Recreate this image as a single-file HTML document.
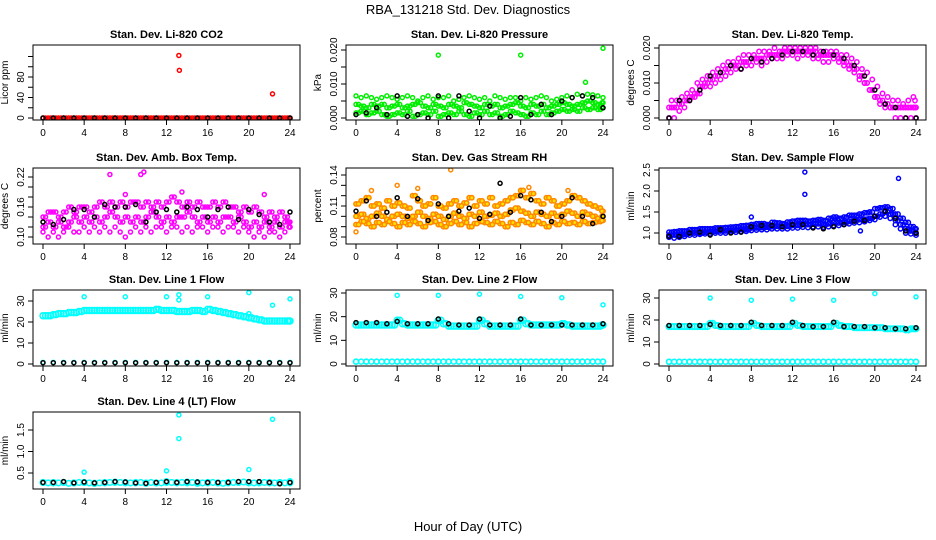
<!DOCTYPE html>
<html><head><meta charset="utf-8"><style>
body{margin:0;background:#fff}
svg{display:block;font-family:"Liberation Sans",sans-serif}
</style></head><body>
<svg id="chart" width="936" height="540" viewBox="0 0 936 540" xmlns="http://www.w3.org/2000/svg">
<text x="468" y="14" text-anchor="middle" font-size="13">RBA_131218  Std. Dev. Diagnostics</text>
<text x="468" y="531" text-anchor="middle" font-size="13">Hour of Day (UTC)</text>
</svg>
<script>
const HOURS=[0,0.5,1,1.5,2,2.5,3,3.5,4,4.5,5,5.5,6,6.5,7,7.5,8,8.5,9,9.5,10,10.5,11,11.5,12,12.5,13,13.5,14,14.5,15,15.5,16,16.5,17,17.5,18,18.5,19,19.5,20,20.5,21,21.5,22,22.5,23,23.5,24];
const HOURS_Q=[0.25,0.75,1.25,1.75,2.25,2.75,3.25,3.75,4.25,4.75,5.25,5.75,6.25,6.75,7.25,7.75,8.25,8.75,9.25,9.75,10.25,10.75,11.25,11.75,12.25,12.75,13.25,13.75,14.25,14.75,15.25,15.75,16.25,16.75,17.25,17.75,18.25,18.75,19.25,19.75,20.25,20.75,21.25,21.75,22.25,22.75,23.25,23.75,23.9];
const HRS=[0,1,2,3,4,5,6,7,8,9,10,11,12,13,14,15,16,17,18,19,20,21,22,23,24];
const X_TICKS=[0,4,8,12,16,20,24];

const CO2_RED=[0,0,0,0,0,0,0,0,0,0,0,0,0,0,0,0,0,0,0,0,0,0,0,0,0,0,0,0,0,0,0,0,0,0,0,0,0,0,0,0,0,0,0,0,0,0,0,0,0];
const CO2_K=[0,0,0,0,0,0,0,0,0,0,0,0,0,0,0,0,0,0,0,0,0,0,0,0,0];
const CO2_OUT_X=[13.2,13.25,22.3];
const CO2_OUT_Y=[122,93,47];

const PRES_G1=[0.0065,0.006,0.0065,0.006,0.0055,0.006,0.0065,0.006,0.0055,0.006,0.0065,0.006,0.005,0.006,0.0065,0.0055,0.006,0.006,0.0065,0.005,0.0055,0.006,0.0065,0.006,0.0055,0.006,0.005,0.0065,0.006,0.0055,0.006,0.006,0.005,0.006,0.0055,0.006,0.0065,0.006,0.005,0.0055,0.006,0.0065,0.006,0.007,0.0065,0.007,0.0068,0.0065,0.006];
const PRES_G2=[0.004,0.0035,0.003,0.004,0.0035,0.004,0.003,0.0035,0.004,0.003,0.0035,0.004,0.0045,0.0035,0.003,0.004,0.0035,0.003,0.004,0.0035,0.003,0.0045,0.004,0.0035,0.003,0.004,0.0035,0.004,0.003,0.0035,0.004,0.0045,0.0035,0.003,0.004,0.0035,0.004,0.003,0.0035,0.004,0.0045,0.004,0.0035,0.004,0.0045,0.005,0.0045,0.004,0.0045];
const PRES_G3=[0.0015,0.002,0.001,0.0015,0.002,0.001,0.0005,0.001,0.0015,0.001,0.002,0.0005,0.001,0.0015,0.001,0.002,0.0005,0.001,0.0015,0.001,0.002,0.001,0.0005,0.0015,0.001,0.002,0.001,0.0015,0.0005,0.001,0.002,0.0015,0.001,0.0005,0.0015,0.001,0.002,0.001,0.0015,0.002,0.0025,0.002,0.0025,0.002,0.003,0.0025,0.003,0.0025,0.003];
const PRES_K=[0.001,0.0015,0.003,0.001,0.0065,0.0005,0.001,0,0.0065,0,0.0065,0.002,0,0.0035,0,0.0005,0.006,0.001,0.004,0.001,0.005,0.006,0.0065,0.006,0.003];
const PRES_OUT_X=[8,16,22.3,24];
const PRES_OUT_Y=[0.0185,0.0185,0.0105,0.0205];

const TEMP_M1=[0.003,0.003,0.004,0.005,0.006,0.007,0.009,0.010,0.011,0.012,0.013,0.014,0.015,0.015,0.016,0.016,0.017,0.017,0.017,0.018,0.018,0.018,0.019,0.019,0.019,0.019,0.019,0.019,0.019,0.018,0.018,0.018,0.018,0.017,0.016,0.015,0.014,0.012,0.010,0.008,0.006,0.005,0.004,0.003,0.003,0.003,0.003,0.003,0.003];
const TEMP_M2=[0,0,0.002,0.003,0.005,0.006,0.007,0.009,0.009,0.010,0.011,0.012,0.013,0.014,0.014,0.015,0.015,0.016,0.015,0.016,0.017,0.017,0.017,0.018,0.018,0.017,0.018,0.018,0.017,0.017,0.016,0.016,0.017,0.016,0.015,0.014,0.013,0.011,0.010,0.008,0.006,0.004,0.003,0.003,0,0,0,0,0];
const TEMP_M3=[0.005,0.005,0.006,0.007,0.008,0.010,0.011,0.012,0.013,0.014,0.015,0.016,0.016,0.017,0.018,0.018,0.018,0.019,0.019,0.019,0.020,0.019,0.020,0.020,0.020,0.020,0.020,0.020,0.020,0.019,0.019,0.019,0.019,0.018,0.018,0.017,0.016,0.014,0.013,0.011,0.009,0.007,0.006,0.005,0.005,0.004,0.005,0.006,0.005];
const TEMP_K=[0,0.005,0.005,0.008,0.012,0.013,0.015,0.014,0.017,0.016,0.017,0.018,0.019,0.019,0.018,0.019,0.018,0.017,0.015,0.012,0.008,0.004,0.003,0,0];

const AMB_M1=[0.14,0.15,0.15,0.14,0.15,0.16,0.15,0.16,0.16,0.15,0.16,0.17,0.16,0.17,0.16,0.17,0.16,0.17,0.17,0.16,0.17,0.16,0.17,0.16,0.17,0.18,0.17,0.16,0.17,0.16,0.17,0.16,0.16,0.17,0.16,0.17,0.16,0.16,0.15,0.16,0.15,0.16,0.15,0.14,0.15,0.14,0.15,0.14,0.13];
const AMB_M2=[0.12,0.13,0.12,0.13,0.12,0.13,0.14,0.13,0.14,0.13,0.14,0.13,0.14,0.15,0.14,0.13,0.14,0.13,0.14,0.13,0.14,0.15,0.14,0.13,0.14,0.13,0.14,0.14,0.15,0.14,0.13,0.14,0.13,0.14,0.13,0.14,0.14,0.13,0.14,0.13,0.12,0.13,0.12,0.13,0.12,0.13,0.12,0.13,0.12];
const AMB_M3=[0.11,0.10,0.11,0.10,0.11,0.12,0.11,0.11,0.12,0.11,0.12,0.11,0.12,0.11,0.12,0.11,0.10,0.11,0.12,0.11,0.12,0.11,0.12,0.12,0.11,0.12,0.12,0.11,0.12,0.11,0.12,0.12,0.11,0.12,0.12,0.11,0.12,0.12,0.11,0.12,0.11,0.10,0.11,0.10,0.11,0.11,0.10,0.11,0.12];
const AMB_K=[0.13,0.125,0.135,0.155,0.155,0.14,0.165,0.16,0.16,0.165,0.13,0.15,0.155,0.15,0.16,0.155,0.14,0.155,0.16,0.135,0.155,0.145,0.13,0.125,0.15];
const AMB_OUT_X=[6.5,9.5,9.8,13.5,21.5,8];
const AMB_OUT_Y=[0.225,0.225,0.23,0.19,0.185,0.185];

const RH_Y1=[0.112,0.115,0.118,0.11,0.112,0.108,0.115,0.11,0.113,0.11,0.108,0.12,0.115,0.11,0.112,0.118,0.11,0.108,0.112,0.115,0.11,0.113,0.118,0.11,0.115,0.112,0.118,0.11,0.112,0.115,0.118,0.12,0.125,0.118,0.122,0.115,0.112,0.118,0.115,0.11,0.112,0.115,0.12,0.118,0.115,0.112,0.11,0.108,0.105];
const RH_Y2=[0.1,0.102,0.098,0.1,0.103,0.1,0.097,0.1,0.102,0.1,0.098,0.1,0.104,0.1,0.098,0.102,0.1,0.097,0.1,0.103,0.1,0.098,0.102,0.1,0.104,0.1,0.101,0.103,0.1,0.102,0.106,0.108,0.105,0.103,0.1,0.104,0.102,0.1,0.103,0.1,0.102,0.105,0.103,0.1,0.104,0.102,0.1,0.098,0.1];
const RH_Y3=[0.092,0.095,0.093,0.09,0.094,0.092,0.095,0.093,0.09,0.094,0.092,0.095,0.093,0.09,0.094,0.095,0.092,0.09,0.093,0.095,0.092,0.094,0.09,0.093,0.095,0.094,0.092,0.095,0.093,0.09,0.094,0.092,0.096,0.094,0.092,0.095,0.093,0.09,0.094,0.092,0.095,0.093,0.094,0.092,0.095,0.093,0.094,0.095,0.096];
const RH_K=[0.105,0.115,0.1,0.104,0.118,0.1,0.117,0.096,0.112,0.1,0.105,0.108,0.098,0.102,0.132,0.104,0.12,0.116,0.104,0.095,0.1,0.118,0.1,0.093,0.1];
const RH_OUT_X=[4,1.5,9.2,6,16.8,20.6,0];
const RH_OUT_Y=[0.13,0.125,0.145,0.127,0.128,0.125,0.085];

const FLOW_B1=[0.95,0.95,0.95,0.97,1.0,1.0,1.0,1.02,1.03,1.04,1.05,1.05,1.06,1.07,1.08,1.08,1.12,1.12,1.13,1.14,1.15,1.16,1.15,1.16,1.18,1.18,1.2,1.2,1.22,1.22,1.2,1.22,1.25,1.24,1.25,1.28,1.3,1.32,1.33,1.35,1.4,1.45,1.5,1.45,1.3,1.2,1.1,1.05,1.0];
const FLOW_B2=[0.9,0.88,0.9,0.92,0.95,0.95,0.97,0.98,0.98,1.0,1.0,1.0,1.02,1.02,1.03,1.04,1.06,1.07,1.08,1.08,1.1,1.1,1.1,1.1,1.12,1.12,1.14,1.13,1.15,1.15,1.14,1.15,1.18,1.18,1.2,1.22,1.24,1.25,1.27,1.3,1.32,1.38,1.4,1.35,1.2,1.1,1.0,0.98,0.95];
const FLOW_B3=[1.02,1.03,1.05,1.05,1.08,1.08,1.1,1.1,1.1,1.12,1.12,1.13,1.14,1.15,1.17,1.18,1.2,1.22,1.22,1.2,1.25,1.24,1.22,1.26,1.28,1.3,1.3,1.28,1.3,1.32,1.3,1.35,1.38,1.35,1.38,1.42,1.42,1.45,1.48,1.5,1.58,1.6,1.62,1.58,1.45,1.35,1.25,1.15,1.1];
const FLOW_K=[0.92,0.92,1.0,1.02,0.95,1.08,1.0,1.02,1.15,1.18,1.18,1.15,1.2,1.2,1.12,1.1,1.15,1.2,1.28,1.3,1.4,1.52,1.35,1.05,1.0];
const FLOW_OUT_X=[13.2,13.2,22.3,8,18.6];
const FLOW_OUT_Y=[2.45,1.92,2.3,1.38,1.05];

const LINE1_C=[23,23,23.5,24,24,24.5,24.5,25,25.5,25.5,25.5,25.5,25.5,25.5,25.5,25.5,25.5,25.5,25.5,25.5,25.5,25.5,26,25.5,25.5,25.5,25,25,25,25.5,25.5,25,26,25.5,25,24.5,24,23.5,23,22.5,22,21.5,21,20.5,20.5,20.5,20.5,20.5,20.5];
const LINE1_LOW=[0.8,0.8,0.8,0.8,0.8,0.8,0.8,0.8,0.8,0.8,0.8,0.8,0.8,0.8,0.8,0.8,0.8,0.8,0.8,0.8,0.8,0.8,0.8,0.8,0.8];
const LINE1_K=[0.6,0.6,0.6,0.6,0.6,0.6,0.6,0.6,0.6,0.6,0.6,0.6,0.6,0.6,0.6,0.6,0.6,0.6,0.6,0.6,0.6,0.6,0.6,0.6,0.6];
const LINE1_OUT_X=[4,8,12,13.2,13.2,16,20,22.3,24,20];
const LINE1_OUT_Y=[32,32,32,33,30.5,32,34,28,31,24];

const LINE2_C=[16.5,16.5,16.5,16.5,16.5,16.5,16.5,16.5,18.5,17,16.5,16.5,16.5,16.5,16.5,16.5,18.5,17,16,16,16,16,16,16,18.5,17,16,16,16,16,16,16,18.5,17,16.5,16.5,16.5,16.5,16.5,16.5,17,16.5,16,16,16,16,16,16,16.5];
const LINE2_LOW=[1,1,1,1,1,1,1,1,1,1,1,1,1,1,1,1,1,1,1,1,1,1,1,1,1];
const LINE2_K=[17.5,17.5,17.5,17,18,17,17,17,19,17,16.5,16.5,19,16.5,16.5,16.5,19,16.5,16.5,16.5,16.5,16.5,16.5,16.5,17];
const LINE2_OUT_X=[4,8,12,16,20,24];
const LINE2_OUT_Y=[29,29,29.5,28.5,28,25];

const LINE3_C=[17,17,17,17,17,17,17,17,18.5,17.5,17,17,17,17,17,17,18.5,17.5,17,17,17,17,17,17,18.5,17.5,17,17,17,17,17,17,18.5,17.5,17,17,16.5,16.5,16.5,16.5,16.5,16.5,16,16,16,16,15.5,16,16];
const LINE3_LOW=[1,1,1,1,1,1,1,1,1,1,1,1,1,1,1,1,1,1,1,1,1,1,1,1,1];
const LINE3_K=[17.5,17.5,17.5,17.5,18,17.5,17.5,17.5,19,17.5,17.5,17.5,19,17.5,17,17,19,17,17,17,16.5,16.5,16,16,16.5];
const LINE3_OUT_X=[4,8,12,16,20,24];
const LINE3_OUT_Y=[30,29,29.5,29,32,30.5];

const LINE4_C=[0.28,0.27,0.28,0.27,0.28,0.26,0.27,0.28,0.28,0.27,0.26,0.27,0.28,0.28,0.29,0.28,0.27,0.27,0.28,0.28,0.27,0.28,0.27,0.27,0.3];
const LINE4_K=[0.28,0.28,0.3,0.27,0.29,0.27,0.28,0.3,0.29,0.27,0.26,0.28,0.3,0.28,0.3,0.29,0.28,0.28,0.28,0.3,0.3,0.3,0.28,0.25,0.28];
const LINE4_OUT_X=[4,12,13.2,13.2,20,22.3];
const LINE4_OUT_Y=[0.52,0.55,1.85,1.3,0.58,1.75];

const NS="http://www.w3.org/2000/svg";
const svg=document.getElementById('chart');
function mk(tag,attrs,parent){const e=document.createElementNS(NS,tag);for(const k in attrs)e.setAttribute(k,attrs[k]);(parent||svg).appendChild(e);return e;}

const COLX=[43,356,669], ROWTOP=[45,168,290,412], ROWBOT=[120,244,366,489];
const panels=[
 {name:'co2',col:0,row:0,title:'Stan. Dev. Li-820 CO2',ylab:'Licor ppm',v0:0,p0:118,v1:80,p1:77,ticks:[0,20,40,60,80,100,120],labels:[0,40,80],fmt:v=>String(v),
  series:[[HOURS,CO2_RED,'#ff0000',2],[HOURS_Q,CO2_RED,'#ff0000',2],[HRS,CO2_K,'#000',2],[CO2_OUT_X,CO2_OUT_Y,'#ff0000',2]]},
 {name:'pressure',col:1,row:0,title:'Stan. Dev. Li-820 Pressure',ylab:'kPa',v0:0,p0:118,v1:0.02,p1:50,ticks:[0,0.005,0.01,0.015,0.02],labels:[0,0.01,0.02],fmt:v=>v.toFixed(3),
  series:[[HOURS,PRES_G1,'#00ee00',2],[HOURS_Q,PRES_G2,'#00ee00',2],[HOURS,PRES_G3,'#00ee00',2],[HOURS_Q,PRES_G3,'#00ee00',2],[HOURS,PRES_G2,'#00ee00',2],[HRS,PRES_K,'#000',2],[PRES_OUT_X,PRES_OUT_Y,'#00ee00',2]]},
 {name:'temp',col:2,row:0,title:'Stan. Dev. Li-820 Temp.',ylab:'degrees C',v0:0,p0:118,v1:0.02,p1:48,ticks:[0,0.005,0.01,0.015,0.02],labels:[0,0.01,0.02],fmt:v=>v.toFixed(3),
  series:[[HOURS,TEMP_M2,'#ff00ff',2.2],[HOURS_Q,TEMP_M3,'#ff00ff',2.2],[HOURS,TEMP_M1,'#ff00ff',2.2],[HOURS_Q,TEMP_M1,'#ff00ff',2.2],[HRS,TEMP_K,'#000',2]]},
 {name:'amb-box-temp',col:0,row:1,title:'Stan. Dev. Amb. Box Temp.',ylab:'degrees C',v0:0.1,p0:237,v1:0.22,p1:177,ticks:[0.1,0.12,0.14,0.16,0.18,0.2,0.22],labels:[0.1,0.16,0.22],fmt:v=>v.toFixed(2),
  series:[[HOURS,AMB_M1,'#ff00ff',2],[HOURS_Q,AMB_M2,'#ff00ff',2],[HOURS,AMB_M3,'#ff00ff',2],[HOURS_Q,AMB_M1,'#ff00ff',2],[HOURS,AMB_M2,'#ff00ff',2],[AMB_OUT_X,AMB_OUT_Y,'#ff00ff',2],[HRS,AMB_K,'#000',2]]},
 {name:'gas-stream-rh',col:1,row:1,title:'Stan. Dev. Gas Stream RH',ylab:'percent',v0:0.08,p0:237,v1:0.14,p1:175,ticks:[0.08,0.09,0.1,0.11,0.12,0.13,0.14],labels:[0.08,0.11,0.14],fmt:v=>v.toFixed(2),
  series:[[HOURS,RH_Y1,'#ff8800',2.2,'#ffe000'],[HOURS_Q,RH_Y2,'#ff8800',2.2,'#ffe000'],[HOURS,RH_Y3,'#ff8800',2.2,'#ffe000'],[HOURS_Q,RH_Y1,'#ff8800',2.2,'#ffe000'],[HOURS,RH_Y2,'#ff8800',2.2,'#ffe000'],[HOURS_Q,RH_Y3,'#ff8800',2.2,'#ffe000'],[RH_OUT_X,RH_OUT_Y,'#ff8800',2],[HRS,RH_K,'#000',2]]},
 {name:'sample-flow',col:2,row:1,title:'Stan. Dev. Sample Flow',ylab:'ml/min',v0:1,p0:233,v1:2.5,p1:170,ticks:[1,1.5,2,2.5],labels:[1,1.5,2,2.5],fmt:v=>v.toFixed(1),
  series:[[HOURS,FLOW_B2,'#0000ff',2.2],[HOURS_Q,FLOW_B3,'#0000ff',2.2],[HOURS,FLOW_B1,'#0000ff',2.2],[HOURS_Q,FLOW_B1,'#0000ff',2.2],[HOURS,FLOW_B3,'#0000ff',2.2],[FLOW_OUT_X,FLOW_OUT_Y,'#0000ff',2],[HRS,FLOW_K,'#000',2]]},
 {name:'line1-flow',col:0,row:2,title:'Stan. Dev. Line 1 Flow',ylab:'ml/min',v0:0,p0:364,v1:30,p1:301,ticks:[0,10,20,30],labels:[0,10,20,30],fmt:v=>String(v),
  series:[[HOURS,LINE1_C,'#00ffff',3],[HOURS_Q,LINE1_C,'#00ffff',3],[HRS,LINE1_LOW,'#00ffff',2],[LINE1_OUT_X,LINE1_OUT_Y,'#00ffff',2],[HRS,LINE1_K,'#000',2]]},
 {name:'line2-flow',col:1,row:2,title:'Stan. Dev. Line 2 Flow',ylab:'ml/min',v0:0,p0:364,v1:30,p1:293,ticks:[0,10,20,30],labels:[0,10,20,30],fmt:v=>String(v),
  series:[[HOURS,LINE2_C,'#00ffff',3],[HOURS_Q,LINE2_C,'#00ffff',3],[HRS,LINE2_LOW,'#00ffff',2.5],[HOURS,LINE2_LOW.concat(LINE2_LOW),'#00ffff',2.5],[LINE2_OUT_X,LINE2_OUT_Y,'#00ffff',2],[HRS,LINE2_K,'#000',2]]},
 {name:'line3-flow',col:2,row:2,title:'Stan. Dev. Line 3 Flow',ylab:'ml/min',v0:0,p0:364,v1:30,p1:298,ticks:[0,10,20,30],labels:[0,10,20,30],fmt:v=>String(v),
  series:[[HOURS,LINE3_C,'#00ffff',2.8],[HOURS_Q,LINE3_C,'#00ffff',2.8],[HRS,LINE3_LOW,'#00ffff',2.5],[HOURS,LINE3_LOW.concat(LINE3_LOW),'#00ffff',2.5],[LINE3_OUT_X,LINE3_OUT_Y,'#00ffff',2],[HRS,LINE3_K,'#000',2]]},
 {name:'line4-flow',col:0,row:3,title:'Stan. Dev. Line 4 (LT) Flow',ylab:'ml/min',v0:0.5,p0:473,v1:1.5,p1:430,ticks:[0.5,1,1.5],labels:[0.5,1,1.5],fmt:v=>v.toFixed(1),
  series:[[HRS,LINE4_C,'#00ffff',2.8],[HOURS,LINE4_C.concat(LINE4_C),'#00ffff',2.8],[LINE4_OUT_X,LINE4_OUT_Y,'#00ffff',2],[HRS,LINE4_K,'#000',2]]}
];

panels.forEach(p=>{
  const x0=COLX[p.col], top=ROWTOP[p.row], bot=ROWBOT[p.row];
  const left=x0-10, right=x0+257;
  const xs=v=>x0+v*(247/24);
  const ys=v=>p.p0+(v-p.v0)*(p.p1-p.p0)/(p.v1-p.v0);
  const g=mk('g',{});
  
  
  const t=mk('text',{x:(left+right)/2,y:top-7,'text-anchor':'middle','font-size':11,'font-weight':'bold'},g);
  t.textContent=p.title;
  
  
  const yl=mk('text',{transform:`translate(${left-25},${(top+bot)/2}) rotate(-90)`,'text-anchor':'middle','font-size':10},g);
  yl.textContent=p.ylab;
  
  
  X_TICKS.forEach(v=>{
    mk('line',{x1:xs(v),x2:xs(v),y1:bot,y2:bot+5,stroke:'#000'},g);
    const l=mk('text',{x:xs(v),y:bot+16,'text-anchor':'middle','font-size':10},g);
    l.textContent=v;
    
    
  });
  p.ticks.forEach(v=>{
    const y=ys(v);
    mk('line',{x1:left-5,x2:left,y1:y,y2:y,stroke:'#000'},g);
  });
  p.labels.forEach(v=>{
    const y=ys(v);
    const l=mk('text',{transform:`translate(${left-9},${y}) rotate(-90)`,'text-anchor':'middle','font-size':10},g);
    l.textContent=p.fmt(v);
    
    
  });
  const cp=mk('clipPath',{id:'cp-'+p.name},g);
  mk('rect',{x:left,y:top,width:right-left,height:bot-top},cp);
  const pg=mk('g',{'clip-path':`url(#cp-${p.name})`},g);
  p.series.forEach(s=>{
    const [X,Y,col,r,fill]=s;
    const n=Math.min(X.length,Y.length);
    for(let i=0;i<n;i++){
      const c=mk('circle',{cx:xs(X[i]),cy:ys(Y[i]),r:r,fill:fill||'none',stroke:col,'stroke-width':1.5},pg);
      
      
    }
  });
  const box=mk('rect',{x:left,y:top,width:right-left,height:bot-top,fill:'none',stroke:'#000','stroke-width':1},g);
  
  
});
</script>
</body></html>
